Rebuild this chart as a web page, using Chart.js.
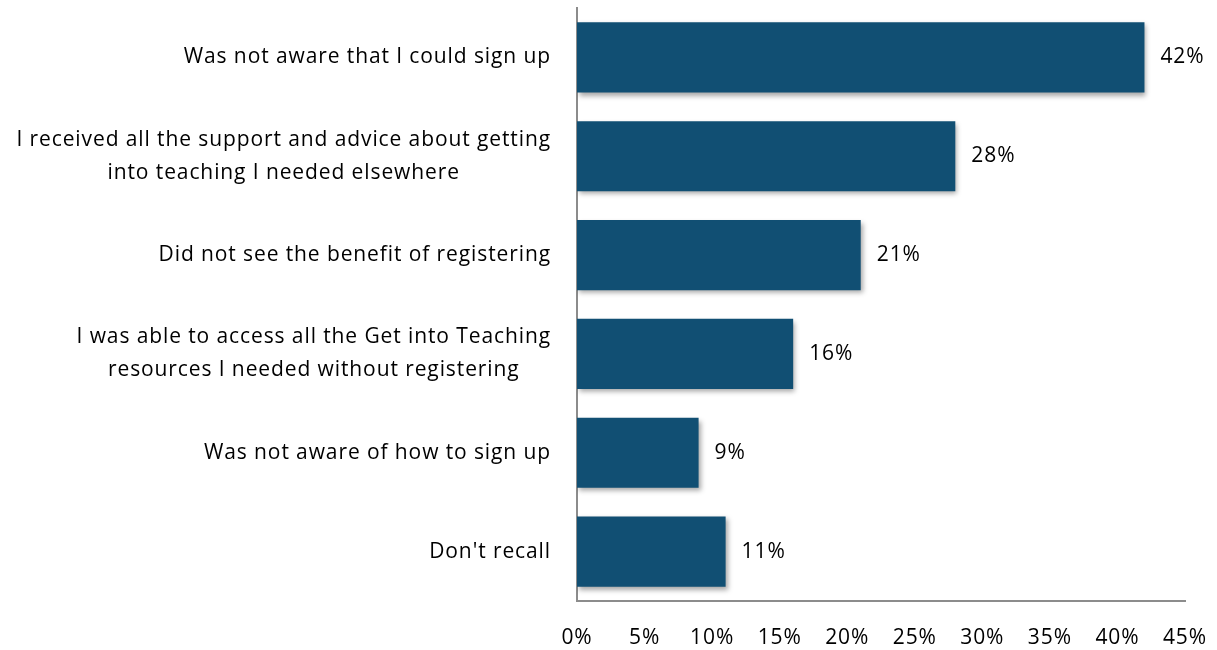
<!DOCTYPE html>
<html lang="en">

<head>
    <meta charset="UTF-8">
    <title>Reasons for not registering</title>
    <script src="https://cdn.jsdelivr.net/npm/chart.js"></script>
    <style>
        html, body {
            margin: 0;
            padding: 0;
            background: #fff;
        }

        .chart-box {
            width: 1217px;
            height: 650px;
        }
    </style>
</head>

<body>
    <div class="chart-box">
        <canvas id="barChart"></canvas>
    </div>

    <script>
        // Survey answers (share of respondents, %)
        const categories = [
            'Was not aware that I could sign up',
            ['I received all the support and advice about getting', 'into teaching I needed elsewhere'],
            'Did not see the benefit of registering',
            ['I was able to access all the Get into Teaching', 'resources I needed without registering'],
            'Was not aware of how to sign up',
            "Don't recall"
        ];
        const values = [42, 28, 21, 16, 9, 11];
        const tickMax = 45;
        const tickStep = 5;

        const labelFont = "'Open Sans', Lato, sans-serif";
        const fontSize = 21;
        const spacing = '0.9px';

        // Slightly looser letter spacing for all text on the canvas
        const textSpacing = {
            id: 'textSpacing',
            beforeLayout(chart) { chart.ctx.letterSpacing = spacing; },
            beforeDraw(chart) { chart.ctx.letterSpacing = spacing; }
        };

        // Soft drop shadow under the bars
        const barShadow = {
            id: 'barShadow',
            beforeDatasetsDraw(chart) {
                const ctx = chart.ctx;
                ctx.save();
                ctx.shadowColor = 'rgba(0, 0, 0, 0.35)';
                ctx.shadowBlur = 5;
                ctx.shadowOffsetX = 2;
                ctx.shadowOffsetY = 3;
            },
            afterDatasetsDraw(chart) {
                chart.ctx.restore();
            }
        };

        // Value labels to the right of each bar
        const valueLabels = {
            id: 'valueLabels',
            afterDatasetsDraw(chart) {
                const ctx = chart.ctx;
                const meta = chart.getDatasetMeta(0);
                ctx.save();
                ctx.font = fontSize + 'px ' + labelFont;
                ctx.fillStyle = '#000';
                ctx.textAlign = 'left';
                ctx.textBaseline = 'middle';
                meta.data.forEach((bar, i) => {
                    ctx.fillText(values[i] + '%', bar.x + 16, bar.y);
                });
                ctx.restore();
            }
        };

        // Category labels: block right-aligned to the axis, lines centred within the block
        const categoryLabels = {
            id: 'categoryLabels',
            afterDraw(chart) {
                const ctx = chart.ctx;
                const yScale = chart.scales.y;
                const right = yScale.right - 26;
                const lineGap = 33;
                ctx.save();
                ctx.font = fontSize + 'px ' + labelFont;
                ctx.fillStyle = '#000';
                ctx.textAlign = 'center';
                ctx.textBaseline = 'middle';
                categories.forEach((label, i) => {
                    const lines = Array.isArray(label) ? label : [label];
                    const blockWidth = Math.max(...lines.map(l => ctx.measureText(l).width));
                    const cx = right - blockWidth / 2;
                    const cy = yScale.getPixelForTick(i);
                    lines.forEach((line, j) => {
                        ctx.fillText(line, cx, cy + (j - (lines.length - 1) / 2) * lineGap);
                    });
                });
                ctx.restore();
            }
        };

        new Chart(document.getElementById('barChart'), {
            type: 'bar',
            data: {
                labels: categories,
                datasets: [{
                    data: values,
                    backgroundColor: '#114f73',
                    borderWidth: 0,
                    categoryPercentage: 1,
                    barPercentage: 0.71
                }]
            },
            options: {
                indexAxis: 'y',
                responsive: true,
                maintainAspectRatio: false,
                animation: false,
                layout: {
                    padding: { top: 8, right: 32, left: 0, bottom: 0 }
                },
                plugins: {
                    legend: { display: false },
                    tooltip: { enabled: false }
                },
                scales: {
                    x: {
                        min: 0,
                        max: tickMax,
                        afterFit(scale) {
                            scale.height = 49;
                            scale.paddingLeft = 0;
                            scale.paddingRight = 0;
                        },
                        grid: { display: false, drawTicks: false },
                        border: { color: '#8c8c8c', width: 2 },
                        ticks: {
                            stepSize: tickStep,
                            padding: 24,
                            color: '#000',
                            font: { family: labelFont, size: fontSize },
                            maxRotation: 0,
                            callback: v => v + '%'
                        }
                    },
                    y: {
                        afterFit(scale) {
                            scale.width = 577;
                            scale.paddingTop = 0;
                            scale.paddingBottom = 0;
                        },
                        grid: { display: false, drawTicks: false },
                        border: { color: '#8c8c8c', width: 2 },
                        ticks: {
                            display: false
                        }
                    }
                }
            },
            plugins: [textSpacing, barShadow, valueLabels, categoryLabels]
        });
    </script>
</body>

</html>
